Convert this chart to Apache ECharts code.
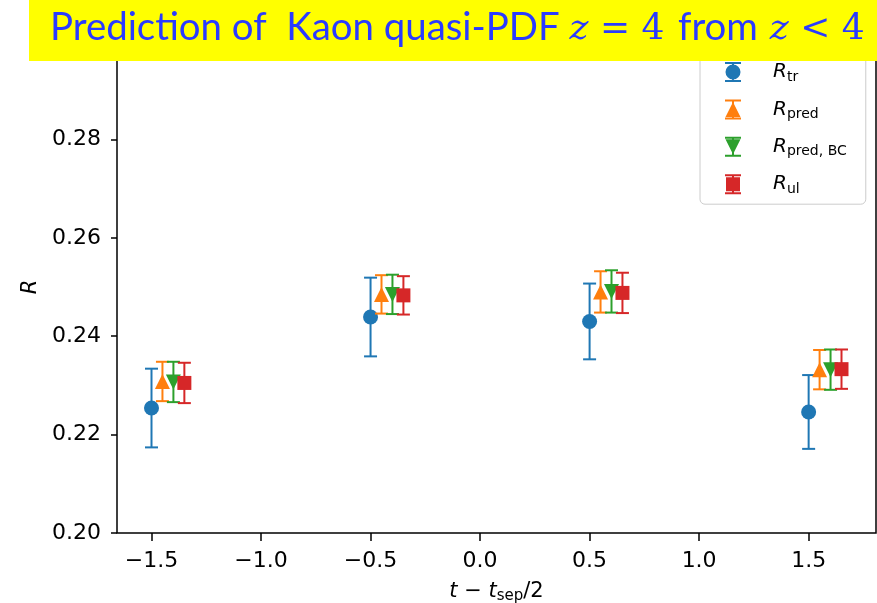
<!DOCTYPE html>
<html><head><meta charset="utf-8">
<script src="https://cdn.jsdelivr.net/npm/echarts@6/dist/echarts.min.js"></script>
<style>html,body{margin:0;padding:0;background:#fff}#c{width:877px;height:603px}</style>
</head><body><div id="c"></div>
<script>
// ---- data ----
const xPositions = [-1.5, -0.5, 0.5, 1.5];
const seriesOffsets = [0, 0.05, 0.10, 0.15];
const seriesNames = ['R_tr', 'R_pred', 'R_pred_BC', 'R_ul'];
const rTr      = [0.2254, 0.2439, 0.2430, 0.2246];
const rTrErr   = [0.0080, 0.0080, 0.0077, 0.0075];
const rPred    = [0.2308, 0.2485, 0.2490, 0.2332];
const rPredErr = [0.0040, 0.0039, 0.0042, 0.0040];
const rPredBC    = [0.2307, 0.2485, 0.2491, 0.2332];
const rPredBCErr = [0.0041, 0.0040, 0.0043, 0.0041];
const rUl    = [0.2305, 0.2483, 0.2488, 0.2333];
const rUlErr = [0.0041, 0.0039, 0.0041, 0.0040];
const xTickValues = [-1.5, -1.0, -0.5, 0.0, 0.5, 1.0, 1.5];
const xRange = [-1.6575, 1.8075];
const yRange = [0.20, 0.30];
const yStep = 0.02;

const colors = ['#1f77b4', '#ff7f0e', '#2ca02c', '#d62728'];
const values = [rTr, rPred, rPredBC, rUl];
const errors = [rTrErr, rPredErr, rPredBCErr, rUlErr];
const symbols = ['circle', 'triangle', 'triangle', 'rect'];
const symbolSizes = [15, 15, 15, 14];
const rotations = [0, 0, 180, 0];
const subs = {R_tr: 'tr', R_pred: 'pred', R_pred_BC: 'pred, BC', R_ul: 'ul'};

// legend icons (errorbar + marker), box 16x20
const caps = 'M0,0 H16 V2 H0 Z M0,18 H16 V20 H0 Z M7,0 H9 V20 H7 Z ';
const icons = [
  'path://' + caps + 'M0.5,10 A7.5,7.5 0 1,1 15.5,10 A7.5,7.5 0 1,1 0.5,10 Z',
  'path://' + caps + 'M8,2.5 L15.5,17.5 L0.5,17.5 Z',
  'path://' + caps + 'M0.5,2.5 L15.5,2.5 L8,17.5 Z',
  'path://' + caps + 'M1,3 H15 V17 H1 Z'
];

function errRender(color) {
  return function (params, api) {
    const x = api.value(0), lo = api.value(1), hi = api.value(2);
    const p1 = api.coord([x, hi]), p2 = api.coord([x, lo]);
    const hw = 6.5;
    const st = {stroke: color, lineWidth: 2};
    return {type: 'group', children: [
      {type: 'line', shape: {x1: p1[0], y1: p1[1], x2: p2[0], y2: p2[1]}, style: st},
      {type: 'line', shape: {x1: p1[0] - hw, y1: p1[1], x2: p1[0] + hw, y2: p1[1]}, style: st},
      {type: 'line', shape: {x1: p2[0] - hw, y1: p2[1], x2: p2[0] + hw, y2: p2[1]}, style: st}
    ]};
  };
}

const series = [];
for (let k = 0; k < 4; k++) {
  const xs = xPositions.map(x => x + seriesOffsets[k]);
  series.push({
    type: 'custom', name: seriesNames[k] + '_err', z: 2 + k * 2,
    renderItem: errRender(colors[k]),
    data: xs.map((x, i) => [x, values[k][i] - errors[k][i], values[k][i] + errors[k][i]]),
    silent: true
  });
  series.push({
    type: 'scatter', name: seriesNames[k], z: 3 + k * 2,
    symbol: symbols[k], symbolSize: symbolSizes[k], symbolRotate: rotations[k],
    itemStyle: {color: colors[k], opacity: 1},
    data: xs.map((x, i) => [x, values[k][i]])
  });
}

const chart = echarts.init(document.getElementById('c'), null, {renderer: 'canvas'});
const axisFont = {fontFamily: 'DejaVu Sans', fontSize: 22, color: '#000'};
const titleColor = '#2a3bff';
chart.setOption({
  animation: false,
  backgroundColor: '#fff',
  grid: {left: 117, right: 1, top: 41, bottom: 70, outerBoundsMode: 'none', containLabel: false,
         show: true, borderColor: '#000', borderWidth: 1.5, backgroundColor: 'transparent'},
  xAxis: {
    type: 'value', min: xRange[0], max: xRange[1],
    axisLine: {show: false, onZero: false},
    splitLine: {show: false},
    axisTick: {show: true, length: 8, lineStyle: {color: '#000', width: 1.5}, customValues: xTickValues},
    axisLabel: Object.assign({margin: 17, customValues: xTickValues, formatter: v => (v < 0 ? '\u2212' : '') + Math.abs(v).toFixed(1)}, axisFont),
    name: '{i|t}{n| \u2212 }{i|t}{s|sep}{n|/2}',
    nameLocation: 'middle', nameGap: 46,
    nameTextStyle: {rich: {
      i: {fontFamily: 'DejaVu Sans', fontStyle: 'italic', fontSize: 21, color: '#000'},
      n: {fontFamily: 'DejaVu Sans', fontSize: 21, color: '#000'},
      s: {fontFamily: 'DejaVu Sans', fontSize: 15, color: '#000', padding: [10, 0, 0, 0]}
    }}
  },
  yAxis: {
    type: 'value', min: yRange[0], max: yRange[1], interval: yStep,
    axisLine: {show: false, onZero: false},
    splitLine: {show: false},
    axisTick: {show: true, length: 6, lineStyle: {color: '#000', width: 1.5}},
    axisLabel: Object.assign({margin: 16, formatter: v => v.toFixed(2)}, axisFont),
    name: 'R', nameLocation: 'middle', nameGap: 75, nameRotate: 90,
    nameTextStyle: {fontFamily: 'DejaVu Sans', fontStyle: 'italic', fontSize: 21, color: '#000'}
  },
  legend: {
    orient: 'vertical', left: 700, top: 46,
    padding: [16, 19, 8, 25],
    itemWidth: 16, itemHeight: 20, itemGap: 15.4,
    backgroundColor: 'rgba(255,255,255,0.8)', borderColor: '#cccccc', borderWidth: 1, borderRadius: 5,
    data: seriesNames.map((n, i) => ({name: n, icon: icons[i]})),
    formatter: n => '{r|R}{s|' + subs[n] + '}',
    textStyle: {rich: {
      r: {fontFamily: 'DejaVu Sans', fontStyle: 'italic', fontSize: 20, color: '#000', padding: [0, 0, 0, 27]},
      s: {fontFamily: 'DejaVu Sans', fontSize: 14, color: '#000', padding: [10, 0, 0, 0]}
    }},
    selectedMode: false
  },
  graphic: [{
    type: 'group', z: 100,
    children: [
      {type: 'rect', shape: {x: 29, y: 0, width: 848, height: 61}, style: {fill: '#ffff00'}, z: 100},
      {type: 'text', x: 50, y: 28, z: 101, style: {
        text: '{a|Prediction of  Kaon quasi-PDF }{m|z}{b| = 4 }{f|from }{m|z}{b| < 4}',
        verticalAlign: 'middle', align: 'left',
        rich: {
          a: {fontFamily: 'Lato', fontSize: 38.4, lineHeight: 46, verticalAlign: 'middle', fill: titleColor},
          f: {fontFamily: 'Lato', fontSize: 38.4, lineHeight: 46, verticalAlign: 'middle', fill: titleColor, padding: [0, 2, 0, 2]},
          m: {fontFamily: 'DejaVu Serif', fontStyle: 'italic', fontSize: 36, lineHeight: 46, verticalAlign: 'middle', fill: titleColor, padding: [4, 0, 0, 0]},
          b: {fontFamily: 'DejaVu Serif', fontSize: 36, lineHeight: 46, verticalAlign: 'middle', fill: titleColor, padding: [4, 0, 0, 0]}
        }
      }}
    ]
  }],
  series: series
});
</script></body></html>
